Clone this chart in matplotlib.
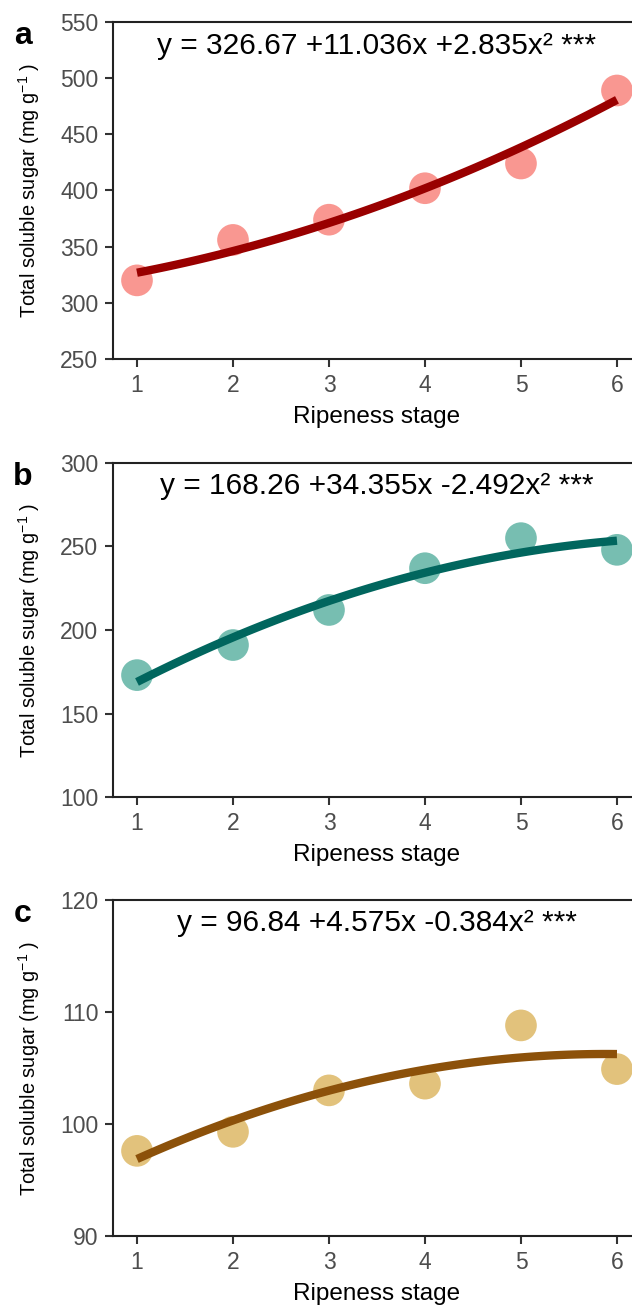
import matplotlib
matplotlib.use("Agg")
import matplotlib.pyplot as plt
import numpy as np

plt.rcParams['font.family'] = ['Liberation Sans', 'DejaVu Sans']
plt.rcParams['mathtext.fontset'] = 'custom'
plt.rcParams['mathtext.rm'] = 'Liberation Sans'
plt.rcParams['mathtext.it'] = 'Liberation Sans:italic'

# data
stages = [1, 2, 3, 4, 5, 6]
sugar_a = [320, 356, 374, 402, 424, 489]
sugar_b = [173, 191, 212, 237, 255, 248]
sugar_c = [97.6, 99.3, 103.0, 103.6, 108.8, 104.9]

labels = ['a', 'b', 'c']
ylims = [(250, 550), (100, 300), (90, 120)]
yticks = [[250, 300, 350, 400, 450, 500, 550],
          [100, 150, 200, 250, 300],
          [90, 100, 110, 120]]
equations = ['y = 326.67 +11.036x +2.835x² ***',
             'y = 168.26 +34.355x -2.492x² ***',
             'y = 96.84 +4.575x -0.384x² ***']
point_colors = ['#F8857E', '#5FB3A4', '#DDB865']
line_colors = ['#990000', '#01665E', '#8C510A']

fig = plt.figure(figsize=(6.32, 13.06), dpi=100)

# axes boxes in figure fraction: [left, bottom, width, height]
boxes = [[0.1788, 0.7251, 0.8354, 0.2581],
         [0.1788, 0.3897, 0.8354, 0.2558],
         [0.1788, 0.0536, 0.8354, 0.2573]]
letter_y = [0.9663, 0.6286, 0.2940]

for i, data in enumerate([sugar_a, sugar_b, sugar_c]):
    ax = fig.add_axes(boxes[i])
    # quadratic least-squares fit of the points
    fit = np.poly1d(np.polyfit(stages, data, 2))
    xs = np.linspace(1, 6, 100)
    ax.scatter(stages, data, s=520, color=point_colors[i], alpha=0.85,
               edgecolor='none', zorder=2, clip_on=False)
    ax.plot(xs, fit(xs), color=line_colors[i], lw=6,
            solid_capstyle='butt', zorder=3, clip_on=False)

    ax.set_xlim(0.75, 6.25)
    ax.set_ylim(*ylims[i])
    ax.set_xticks(stages)
    ax.set_yticks(yticks[i])
    ax.tick_params(direction='out', length=5.5, width=1.5, color='#333333',
                   labelcolor='#4D4D4D', labelsize=16.5, pad=5)
    for sp in ax.spines.values():
        sp.set_linewidth(1.5)
        sp.set_color('#222222')

    ax.set_xlabel('Ripeness stage', fontsize=17.5, labelpad=7)
    ax.set_ylabel('Total soluble sugar (mg g$^{-1}$ )', fontsize=14.4)
    ax.yaxis.set_label_coords(-0.134, 0.5)

    ax.text(3.5, 0.93, equations[i], transform=ax.get_xaxis_transform(),
            ha='center', va='center', fontsize=21.5)
    fig.text(0.036, letter_y[i], labels[i], fontsize=23, fontweight='bold',
             ha='center', va='baseline')

fig.savefig('out.png', dpi=100)
